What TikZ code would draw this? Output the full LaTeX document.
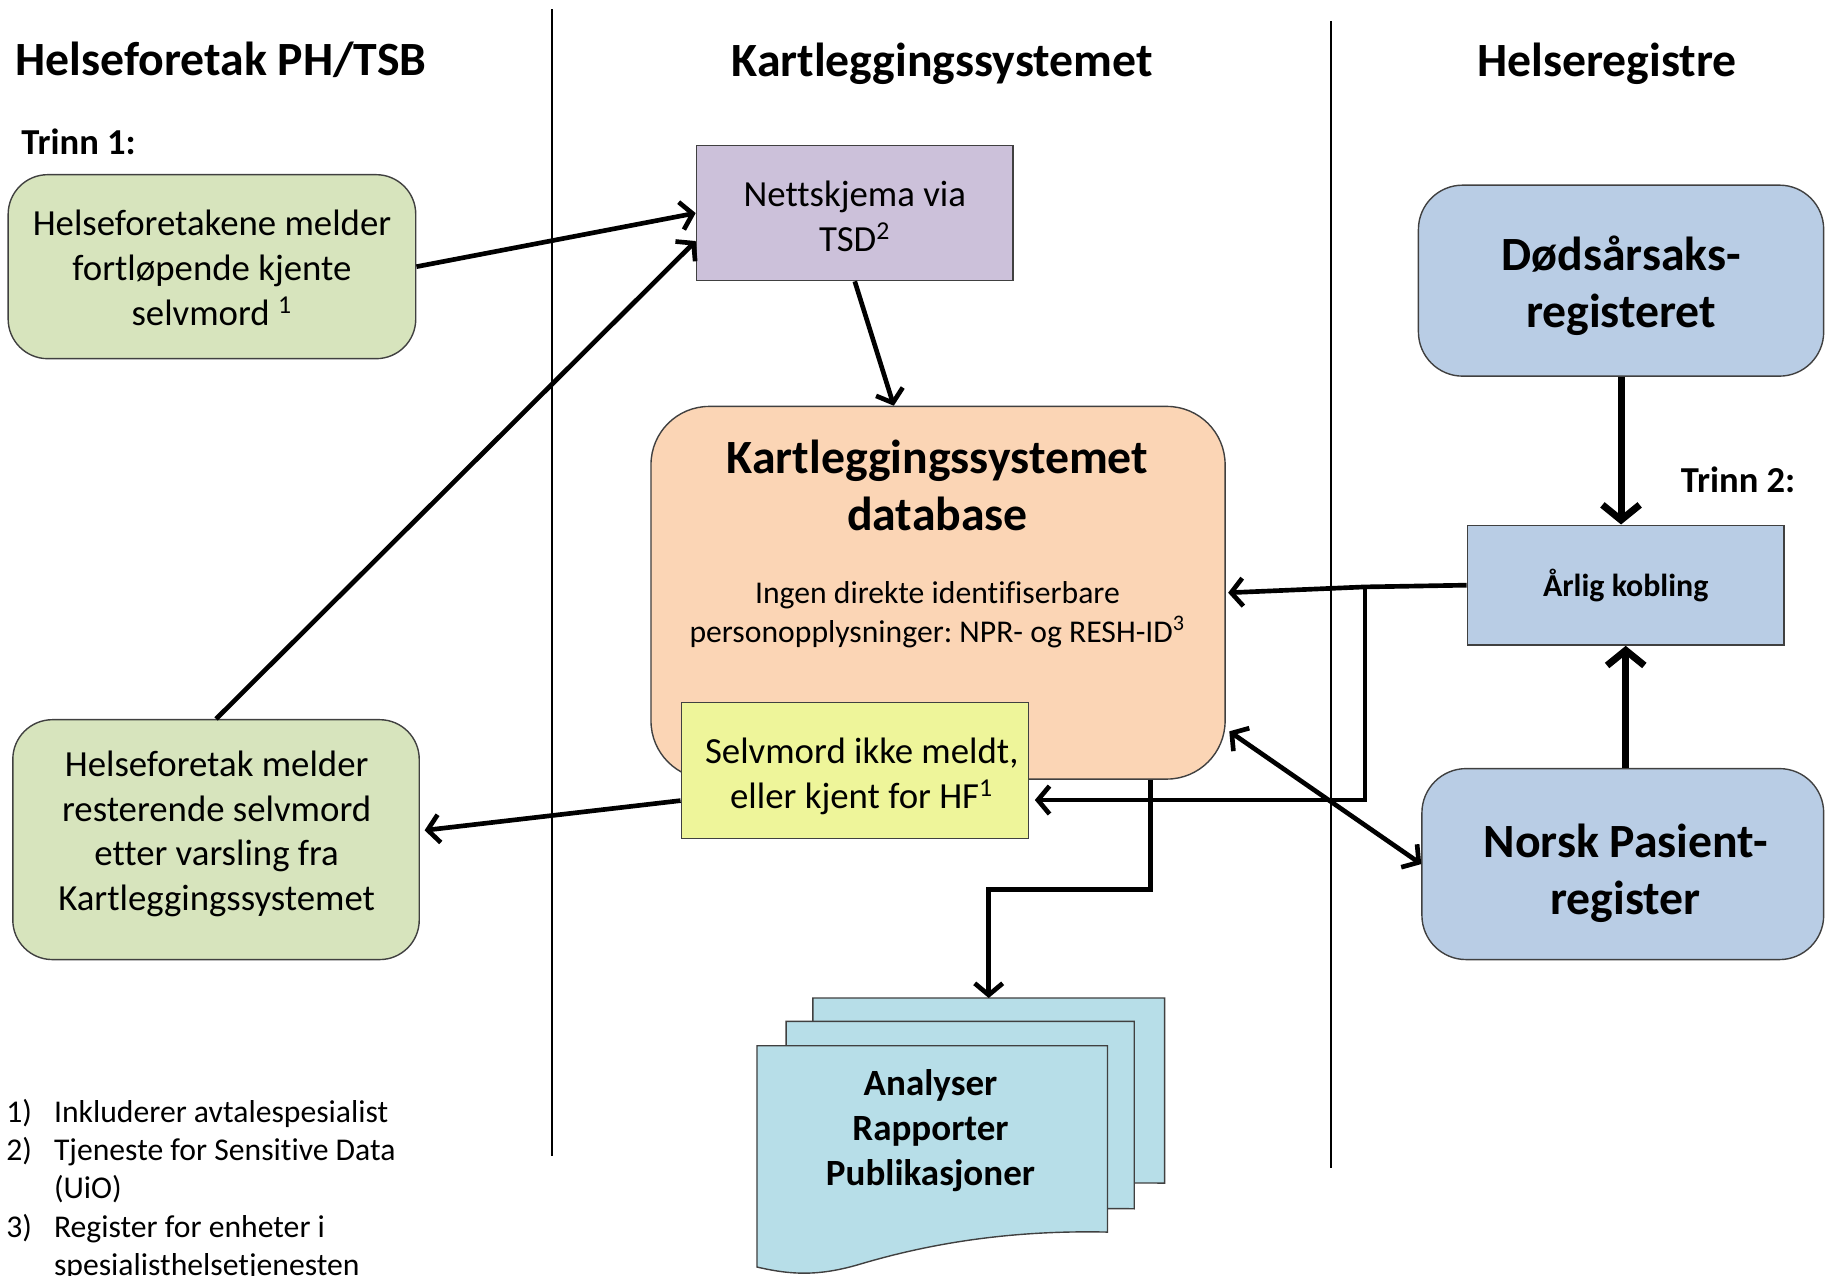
\documentclass[tikz,border=0pt]{standalone}
\usepackage{fontspec}
\setmainfont{Carlito}[Ligatures={NoCommon}]
\usetikzlibrary{arrows.meta,calc}
\definecolor{cgreen}{HTML}{D7E4BD}
\definecolor{cpurple}{HTML}{CCC1DA}
\definecolor{corange}{HTML}{FBD5B5}
\definecolor{cyellow}{HTML}{EEF59A}
\definecolor{cblue}{HTML}{B9CDE5}
\definecolor{cdoc}{HTML}{B7DEE8}
\newcommand{\fHead}{\fontsize{20.5}{24.5}\selectfont\bfseries}
\newcommand{\fBody}{\fontsize{15.8}{19.25}\selectfont}
\newcommand{\fSmall}{\fontsize{13.6}{17}\selectfont}
\newcommand{\fFoot}{\fontsize{13.6}{16.5}\selectfont}
\newcommand{\fTrinn}{\fontsize{15.7}{19}\selectfont\bfseries}
\newcommand{\fKob}{\fontsize{13.7}{16}\selectfont\bfseries}
\newcommand{\fDoc}{\fontsize{15.9}{19.25}\selectfont\bfseries}
\newcommand{\drawdoc}[4]{\draw[docst] (#1,#2) -- (#3,#2) -- (#3,#4) .. controls ({#3-0.3*(#3-#1)},{#4-2}) and ({#3-0.53*(#3-#1)},{#4+12}) .. ({#1+0.3*(#3-#1)},{#4+27}) .. controls ({#1+0.18*(#3-#1)},{#4+38}) and ({#1+0.1*(#3-#1)},{#4+37}) .. (#1,{#4+30}) -- cycle;}
\tikzset{
  box/.style={draw=black!75, line width=0.6pt, align=center, inner sep=0pt},
  docst/.style={draw=black!75, line width=0.6pt, fill=cdoc},
  divider/.style={line width=1pt, black},
  conn/.style={line width=2pt, -{Straight Barb[length=5pt,width=12pt]}},
  bigconn/.style={line width=3pt, -{Straight Barb[length=6.5pt,width=16pt]}},
}
\frenchspacing
\begin{document}
\begin{tikzpicture}[x=0.5pt,y=-0.5pt]
\useasboundingbox[fill=white] (0,0) rectangle (1568,1095);
% dividers
\coordinate (l1t) at (474,8); \coordinate (l1b) at (474,993);
\coordinate (l2t) at (1143,18); \coordinate (l2b) at (1143,1003);
\draw[divider] (l1t) -- (l1b);
\draw[divider] (l2t) -- (l2b);
% headings
\node[font=\fHead] (h1) at (190,51) {Helseforetak PH/TSB};
\node[font=\fHead] (h2) at (809,55) {Kartleggingssystemet};
\node[font=\fHead] (h3) at (1380,55) {Helseregistre};
\node[font=\fTrinn, anchor=west, inner sep=0pt] (t1) at (18,122) {Trinn 1:};
\node[font=\fTrinn, anchor=west, inner sep=0pt] (t2) at (1443,412) {Trinn 2:};
% boxes
\node[box, fill=cgreen, rounded corners=17pt, minimum width=175pt, minimum height=79pt] (g1) at (182,229) {};
\node[font=\fBody, align=center] (g1t) at (182,230) {Helseforetakene melder\\fortløpende kjente\\selvmord \textsuperscript{1}};
\node[box, fill=cpurple, minimum width=136pt, minimum height=58pt] (p) at (734,183) {};
\node[font=\fBody, align=center] (pt) at (734,186) {Nettskjema via\\TSD\textsuperscript{2}};
\node[box, fill=corange, rounded corners=25pt, minimum width=246.5pt, minimum height=160pt] (o) at (805.5,509) {};
\node[font=\fHead, align=center] (ot) at (805,417) {Kartleggingssystemet\\database};
\node[font=\fSmall, align=center] (os) at (805,528) {Ingen direkte identifiserbare\\personopplysninger: NPR- og RESH-ID\textsuperscript{3}};
\node[box, fill=cyellow, minimum width=149pt, minimum height=58.5pt] (y) at (734,661.5) {};
\node[font=\fBody, align=center] (yt) at (740,667) {Selvmord ikke meldt,\\eller kjent for HF\textsuperscript{1}};
\node[box, fill=cgreen, rounded corners=17pt, minimum width=174.5pt, minimum height=103pt] (g2) at (185.5,721) {};
\node[font=\fBody, align=center] (g2t) at (186,716) {Helseforetak melder\\resterende selvmord\\etter varsling fra\\Kartleggingssystemet};
\node[box, fill=cblue, rounded corners=19pt, minimum width=174pt, minimum height=82pt] (d) at (1392,241) {};
\node[font=\fHead, align=center] (dt) at (1392,245) {Dødsårsaks-\\registeret};
\node[box, fill=cblue, minimum width=136pt, minimum height=51.5pt, font=\fKob] (a) at (1396,502.5) {Årlig kobling};
\node[box, fill=cblue, rounded corners=19pt, minimum width=172.5pt, minimum height=82pt] (n) at (1393.5,742) {};
\node[font=\fHead, align=center] (nt) at (1396,750) {Norsk Pasient-\\register};
% documents
\drawdoc{698}{857}{1000}{1016}
\drawdoc{675}{877}{974}{1038}
\drawdoc{650}{898}{951}{1058}
\node[font=\fDoc, align=center] (doct) at (799,971) {Analyser\\Rapporter\\Publikasjoner};
\coordinate (doctop) at (849,857);
% footnotes
\node[font=\fFoot, anchor=north west, inner sep=0pt] (fn) at (5,940) {\begin{tabular}{@{}p{20.5pt}@{}l@{}}1) & Inkluderer avtalespesialist\\2) & Tjeneste for Sensitive Data\\ & (UiO)\\3) & Register for enheter i\\ & spesialisthelsetjenesten\end{tabular}};
% connectors
\draw[conn] (g1.east) -- (p.west);
\draw[conn] (g2.north) -- ($(p.west)+(0,24)$);
\draw[conn] (p.south) -- ($(o.north)+(-38,0)$);
\draw[conn] ($(y.west)+(0,26)$) -- ($(g2.east)+(4,-8)$);
\coordinate (j1) at (1172,504);
\coordinate (j2) at (1172,687);
\coordinate (yr) at ($(y.east)+(5,0)$);
\draw[conn] (a.west) -- (j1) -- ($(o.east)+(2,0)$);
\draw[conn] (j1) -- (j2) -- (yr |- j2);
\draw[conn, {Straight Barb[length=5pt,width=12pt]}-{Straight Barb[length=5pt,width=12pt]}] ($(o.east)+(3,119)$) -- (n.west);
\draw[bigconn] (d.south) -- (d.south |- a.north);
\draw[bigconn] (a.south |- n.north) -- (a.south);
\coordinate (ob) at ($(o.south)+(182.5,0)$);
\coordinate (k1) at (988,764);
\coordinate (k2) at (849,764);
\draw[conn] (ob) -- (k1) -- (k2) -- (doctop);
\end{tikzpicture}
\end{document}
